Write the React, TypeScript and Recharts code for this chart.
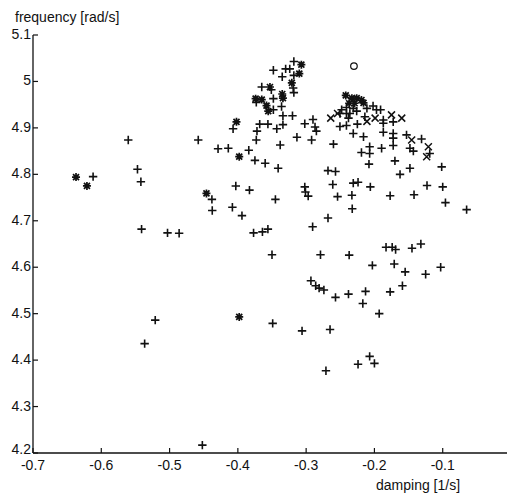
import React from 'react';
import { ScatterChart, Scatter, XAxis, YAxis } from 'recharts';

// '+' markers
const plusDamping = [
  -0.318, -0.348, -0.330, -0.324, -0.335, -0.318, -0.319, -0.318, -0.365, -0.351, -0.373, -0.348,
  -0.336, -0.348, -0.334, -0.320, -0.368, -0.356, -0.334, -0.343, -0.372, -0.407, -0.373, -0.3135,
  -0.338, -0.302, -0.290, -0.287, -0.285, -0.292, -0.458, -0.429, -0.414, -0.384, -0.375, -0.360,
  -0.341, -0.268, -0.257,
  -0.241, -0.248, -0.2505, -0.241, -0.236, -0.231, -0.226, -0.211, -0.202, -0.197, -0.191, -0.238,
  -0.214, -0.187, -0.2505, -0.241, -0.225, -0.187, -0.1725, -0.231, -0.216, -0.187, -0.1725, -0.1725,
  -0.153, -0.131, -0.260, -0.207, -0.1895, -0.1725, -0.219, -0.207, -0.148, -0.143, -0.119, -0.208,
  -0.170, -0.148, -0.1015, -0.1625, -0.231, -0.224,
  -0.383, -0.345, -0.394, -0.377, -0.364, -0.356, -0.261, -0.302, -0.301, -0.297, -0.254, -0.206,
  -0.233, -0.2325, -0.268, -0.2905, -0.123, -0.100, -0.177, -0.142, -0.096, -0.065, -0.183, -0.174,
  -0.169, -0.145, -0.132,
  -0.5605, -0.612, -0.547, -0.542, -0.438, -0.4375, -0.403, -0.408, -0.541, -0.503, -0.486, -0.521,
  -0.5365,
  -0.350, -0.279, -0.237, -0.203, -0.171, -0.155, -0.125, -0.103, -0.293, -0.286, -0.281, -0.274,
  -0.257, -0.238, -0.213, -0.177, -0.159, -0.217, -0.193, -0.349, -0.306, -0.265, -0.271, -0.224,
  -0.207, -0.200, -0.452,
];
const plusFrequency = [
  5.043, 5.024, 5.027, 5.027, 5.010, 5.013, 4.986, 4.976, 4.988, 4.982, 4.955, 4.963,
  4.946, 4.939, 4.926, 4.926, 4.908, 4.908, 4.907, 4.898, 4.893, 4.898, 4.874, 4.880,
  4.863, 4.909, 4.918, 4.902, 4.893, 4.874, 4.874, 4.855, 4.856, 4.852, 4.830, 4.824,
  4.813, 4.808, 4.806,
  4.944, 4.939, 4.931, 4.931, 4.931, 4.942, 4.936, 4.942, 4.947, 4.939, 4.939, 4.921,
  4.924, 4.917, 4.903, 4.905, 4.908, 4.910, 4.913, 4.888, 4.881, 4.8905, 4.888, 4.878,
  4.885, 4.876, 4.865, 4.8595, 4.856, 4.862, 4.847, 4.845, 4.856, 4.850, 4.845, 4.822,
  4.829, 4.813, 4.816, 4.800, 4.781, 4.783,
  4.766, 4.746, 4.711, 4.674, 4.676, 4.682, 4.778, 4.773, 4.762, 4.753, 4.752, 4.773,
  4.755, 4.726, 4.706, 4.687, 4.776, 4.773, 4.754, 4.756, 4.739, 4.724, 4.643, 4.643,
  4.638, 4.641, 4.650,
  4.874, 4.795, 4.811, 4.784, 4.746, 4.722, 4.775, 4.729, 4.682, 4.674, 4.673, 4.486,
  4.4355,
  4.627, 4.627, 4.626, 4.604, 4.607, 4.590, 4.585, 4.600, 4.571, 4.560, 4.555, 4.551,
  4.535, 4.542, 4.548, 4.547, 4.560, 4.522, 4.500, 4.479, 4.463, 4.466, 4.377, 4.391,
  4.408, 4.393, 4.217,
];

// '*' markers
const starDamping = [
  -0.307, -0.310, -0.321, -0.353, -0.374, -0.365, -0.335, -0.334, -0.358, -0.3555, -0.402, -0.398,
  -0.242, -0.233, -0.226, -0.219, -0.237, -0.229, -0.216,
  -0.637, -0.621, -0.446, -0.398,
];
const starFrequency = [
  5.036, 5.017, 4.997, 4.988, 4.963, 4.961, 4.973, 4.964, 4.948, 4.936, 4.913, 4.838,
  4.970, 4.964, 4.964, 4.960, 4.953, 4.953, 4.954,
  4.794, 4.775, 4.759, 4.493,
];

// 'x' markers
const crossDamping = [-0.264, -0.254, -0.211, -0.199, -0.175, -0.160, -0.1455, -0.121, -0.1235];
const crossFrequency = [4.921, 4.931, 4.914, 4.921, 4.928, 4.921, 4.874, 4.8595, 4.838];

// 'o' marker
const circleDamping = [-0.230];
const circleFrequency = [5.033];

const xTicks = [-0.7, -0.6, -0.5, -0.4, -0.3, -0.2, -0.1];
const yTicks = [4.2, 4.3, 4.4, 4.5, 4.6, 4.7, 4.8, 4.9, 5.0, 5.1];

const toPoints = (xs: number[], ys: number[]) => xs.map((x, i) => ({ x, y: ys[i] }));
const plusData = toPoints(plusDamping, plusFrequency);
const starData = toPoints(starDamping, starFrequency);
const crossData = toPoints(crossDamping, crossFrequency);
const circleData = toPoints(circleDamping, circleFrequency);

const FONT = '"Liberation Sans", Arial, Helvetica, sans-serif';
const INK = '#111';

const PlusShape = (p: any) => (
  <path d={`M${p.cx - 4.2},${p.cy}h8.4M${p.cx},${p.cy - 4.2}v8.4`} stroke={INK} strokeWidth={1.6} fill="none" />
);
const CrossShape = (p: any) => (
  <path d={`M${p.cx - 3.5},${p.cy - 3.5}l7,7M${p.cx - 3.5},${p.cy + 3.5}l7,-7`} stroke={INK} strokeWidth={1.5} fill="none" />
);
const StarShape = (p: any) => (
  <path
    d={`M${p.cx - 4},${p.cy}h8M${p.cx},${p.cy - 4}v8M${p.cx - 3},${p.cy - 3}l6,6M${p.cx - 3},${p.cy + 3}l6,-6`}
    stroke={INK}
    strokeWidth={1.7}
    fill="none"
  />
);
const CircleShape = (p: any) => <circle cx={p.cx} cy={p.cy} r={3.3} stroke={INK} strokeWidth={1.2} fill="none" />;

const fmt = (v: number) => String(Number(v.toFixed(1)));

const BottomTick = (p: any) => {
  const axisY = p.y - 2;
  return (
    <g>
      <line x1={p.x} x2={p.x} y1={axisY} y2={axisY - 5} stroke={INK} strokeWidth={1.2} />
      <text x={p.x} y={axisY + 17} textAnchor="middle" fontSize={14} fontFamily={FONT} fill={INK}>
        {fmt(p.payload.value)}
      </text>
    </g>
  );
};
const TopTick = (p: any) => {
  const axisY = p.y;
  return <line x1={p.x} x2={p.x} y1={axisY} y2={axisY + 5} stroke={INK} strokeWidth={1.2} />;
};
const LeftTick = (p: any) => {
  const axisX = p.x + 2;
  const lowest = p.index === 0;
  return (
    <g>
      <line x1={axisX} x2={axisX + 5} y1={p.y} y2={p.y} stroke={INK} strokeWidth={1.2} />
      <text x={axisX - 2} y={p.y + (lowest ? 1 : 4)} textAnchor="end" fontSize={14} fontFamily={FONT} fill={INK}>
        {fmt(p.payload.value)}
      </text>
    </g>
  );
};

export default function App() {
  return (
    <div style={{ position: 'absolute', left: 0, top: 0, width: 507, height: 494, overflow: 'hidden', background: '#fff' }}>
      <ScatterChart width={520} height={494} margin={{ top: 35, right: 9, bottom: 0, left: 0 }}>
        <XAxis
          type="number"
          dataKey="x"
          domain={[-0.7, 0]}
          ticks={xTicks}
          allowDataOverflow
          height={41}
          tickSize={0}
          tickMargin={2}
          tick={BottomTick}
          axisLine={{ stroke: INK, strokeWidth: 1.3 }}
          tickLine={false}
        />
        <XAxis
          xAxisId="top"
          orientation="top"
          type="number"
          dataKey="x"
          domain={[-0.7, 0]}
          ticks={xTicks}
          allowDataOverflow
          height={0}
          tickSize={0}
          tickMargin={0}
          tick={TopTick}
          axisLine={{ stroke: INK, strokeWidth: 1.3 }}
          tickLine={false}
        />
        <YAxis
          type="number"
          dataKey="y"
          domain={[4.2, 5.1]}
          ticks={yTicks}
          allowDataOverflow
          width={33}
          tickSize={0}
          tickMargin={2}
          tick={LeftTick}
          axisLine={{ stroke: INK, strokeWidth: 1.3 }}
          tickLine={false}
        />
        <Scatter data={plusData} shape={PlusShape} isAnimationActive={false} />
        <Scatter data={starData} shape={StarShape} isAnimationActive={false} />
        <Scatter data={crossData} shape={CrossShape} isAnimationActive={false} />
        <Scatter data={circleData} shape={CircleShape} isAnimationActive={false} />
      </ScatterChart>
      <div style={{ position: 'absolute', left: 15, top: 10, fontSize: 14, lineHeight: '15px', fontFamily: FONT, color: INK, whiteSpace: 'nowrap' }}>
        frequency [rad/s]
      </div>
      <div style={{ position: 'absolute', left: 376, top: 478, fontSize: 14, lineHeight: '15px', fontFamily: FONT, color: INK, whiteSpace: 'nowrap' }}>
        damping [1/s]
      </div>
    </div>
  );
}
